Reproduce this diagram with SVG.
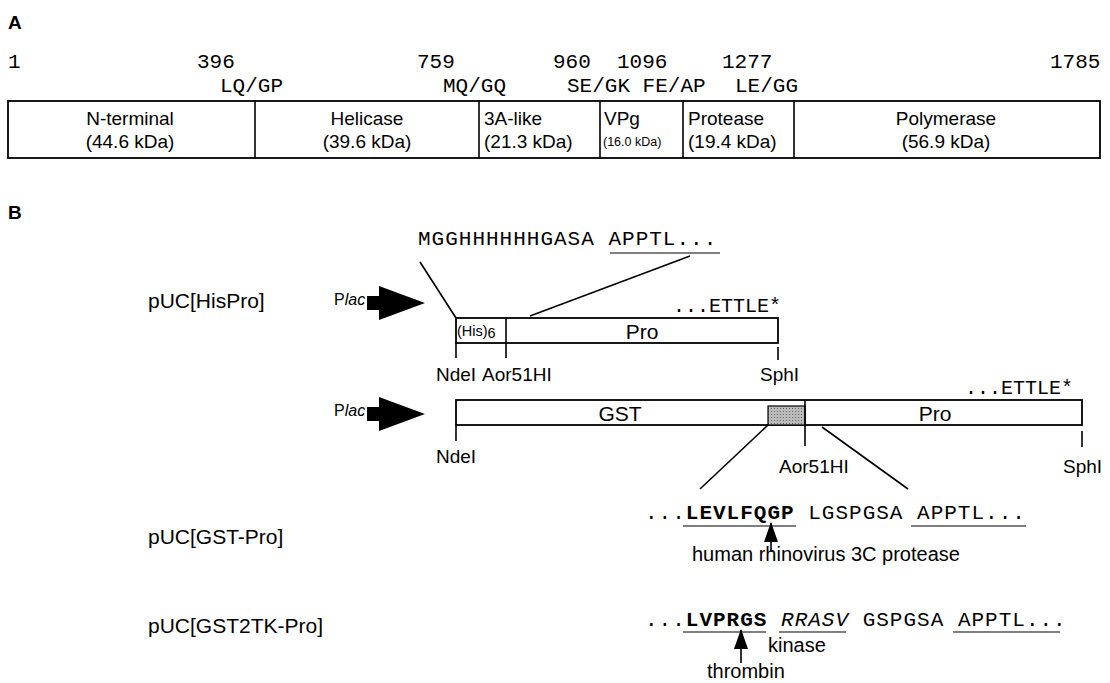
<svg xmlns="http://www.w3.org/2000/svg" width="1110" height="683" viewBox="0 0 1110 683">
<style>
.sans{font-family:"Liberation Sans",Arial,sans-serif;fill:#000}
.mono{font-family:"Liberation Mono","Courier New",monospace;fill:#000}
.seq{font-family:"Liberation Mono","Courier New",monospace;fill:#000;font-size:21px;letter-spacing:1px}
.ln{stroke:#000;stroke-width:1.6;fill:none}
.box{stroke:#000;stroke-width:1.8;fill:#fff}
.ul{stroke:#000;stroke-width:1.2}
</style>
<defs>
<marker id="ah" viewBox="0 0 20 14" refX="19" refY="7" markerWidth="20" markerHeight="14" markerUnits="userSpaceOnUse" orient="auto"><path d="M0,0 L20,7 L0,14 Z" fill="#000"/></marker>
<pattern id="dots" width="3" height="3" patternUnits="userSpaceOnUse"><rect width="3" height="3" fill="#bbb"/><rect width="1" height="1" fill="#666"/></pattern>
</defs>

<!-- Panel A -->
<g id="panelA">
<text class="sans" x="8" y="29" font-size="19" font-weight="bold">A</text>
<g class="mono" font-size="21">
<text x="8" y="68">1</text>
<text x="197" y="68">396</text>
<text x="417" y="68">759</text>
<text x="553" y="68">960</text>
<text x="617" y="68">1096</text>
<text x="722" y="68">1277</text>
<text x="1050" y="68">1785</text>
<text x="220" y="92">LQ/GP</text>
<text x="443" y="92">MQ/GQ</text>
<text x="567" y="92">SE/GK FE/AP</text>
<text x="735" y="92">LE/GG</text>
</g>
<g id="polyprotein">
<rect class="box" x="8" y="101" width="1092" height="57"/>
<line class="ln" x1="255" y1="101" x2="255" y2="158"/>
<line class="ln" x1="479" y1="101" x2="479" y2="158"/>
<line class="ln" x1="600" y1="101" x2="600" y2="158"/>
<line class="ln" x1="683" y1="101" x2="683" y2="158"/>
<line class="ln" x1="794" y1="101" x2="794" y2="158"/>
</g>
<g class="sans" font-size="19">
<text x="130" y="125" text-anchor="middle">N-terminal</text>
<text x="130" y="148" text-anchor="middle">(44.6 kDa)</text>
<text x="367" y="125" text-anchor="middle">Helicase</text>
<text x="367" y="148" text-anchor="middle">(39.6 kDa)</text>
<text x="484" y="125">3A-like</text>
<text x="484" y="148">(21.3 kDa)</text>
<text x="604" y="125">VPg</text>
<text x="603" y="146" font-size="12.5">(16.0 kDa)</text>
<text x="688" y="125">Protease</text>
<text x="688" y="148">(19.4 kDa)</text>
<text x="946" y="125" text-anchor="middle">Polymerase</text>
<text x="946" y="148" text-anchor="middle">(56.9 kDa)</text>
</g>
</g>

<!-- Panel B -->
<text class="sans" x="8" y="219" font-size="19" font-weight="bold">B</text>

<g id="hispro">
<text class="sans" x="148" y="308" font-size="21">pUC[HisPro]</text>
<text class="sans" x="334" y="305" font-size="16">P<tspan font-style="italic">lac</tspan></text>
<path d="M367,296 H379 V286 L425,303 L379,320 V310 H367 Z" fill="#000"/>
<text class="seq" x="418" y="245" letter-spacing="1.1">MGGHHHHHHGASA APPTL...</text>
<line class="ul" x1="610" y1="253" x2="720" y2="253"/>
<rect class="box" x="456" y="318" width="322" height="25"/>
<line class="ln" x1="506" y1="318" x2="506" y2="358"/>
<line class="ln" x1="456" y1="343" x2="456" y2="358"/>
<line class="ln" x1="778" y1="347" x2="778" y2="360"/>
<text class="sans" x="457" y="336" font-size="14.5">(His)<tspan dy="2">6</tspan></text>
<text class="sans" x="642" y="339" font-size="21" text-anchor="middle">Pro</text>
<text class="mono" x="673" y="312" font-size="20">...ETTLE*</text>
<text class="sans" x="436" y="381" font-size="19">NdeI</text>
<text class="sans" x="482" y="381" font-size="19">Aor51HI</text>
<text class="sans" x="760" y="381" font-size="19">SphI</text>
</g>

<g id="gstpro">
<text class="sans" x="334" y="416" font-size="16">P<tspan font-style="italic">lac</tspan></text>
<path d="M367,407 H379 V397 L425,414 L379,431 V421 H367 Z" fill="#000"/>
<text class="mono" x="965" y="394" font-size="20">...ETTLE*</text>
<rect class="box" x="456" y="400" width="626" height="25"/>
<rect x="768" y="406" width="37" height="19" fill="url(#dots)" stroke="#000" stroke-width="1.2"/>
<line class="ln" x1="805" y1="400" x2="805" y2="446"/>
<line class="ln" x1="456" y1="425" x2="456" y2="441"/>
<line class="ln" x1="1082" y1="431" x2="1082" y2="447"/>
<text class="sans" x="620" y="421" font-size="21" text-anchor="middle">GST</text>
<text class="sans" x="935" y="421" font-size="21" text-anchor="middle">Pro</text>
<text class="sans" x="436" y="463" font-size="19">NdeI</text>
<text class="sans" x="779" y="473" font-size="19">Aor51HI</text>
<text class="sans" x="1063" y="473" font-size="19">SphI</text>
</g>

<g id="connectors">
<line class="ln" x1="420" y1="262" x2="456" y2="318"/>
<line class="ln" x1="690" y1="256" x2="530" y2="316"/>
<line class="ln" x1="768" y1="425" x2="700" y2="489"/>
<line class="ln" x1="822" y1="427" x2="908" y2="489"/>
<line class="ln" x1="771" y1="552" x2="771" y2="523" marker-end="url(#ah)"/>
<line class="ln" x1="741" y1="663" x2="741" y2="630" marker-end="url(#ah)"/>
</g>

<g id="gstpro-seq">
<text class="sans" x="148" y="544" font-size="21">pUC[GST-Pro]</text>
<text class="seq" x="645" y="519">...<tspan font-weight="bold">LEVLFQGP</tspan> LGSPGSA APPTL...</text>
<line class="ul" x1="683" y1="526" x2="796" y2="526"/>
<line class="ul" x1="911" y1="526" x2="1026" y2="526"/>
<text class="sans" x="692" y="561" font-size="20">human rhinovirus 3C protease</text>
</g>

<g id="gst2tk-seq">
<text class="sans" x="148" y="633" font-size="21">pUC[GST2TK-Pro]</text>
<text class="seq" x="645" y="626">...<tspan font-weight="bold">LVPRGS</tspan> <tspan font-style="italic">RRASV</tspan> GSPGSA APPTL...</text>
<line class="ul" x1="683" y1="632" x2="766" y2="632"/>
<line class="ul" x1="779" y1="632" x2="846" y2="632"/>
<line class="ul" x1="953" y1="632" x2="1060" y2="632"/>
<text class="sans" x="768" y="652" font-size="20">kinase</text>
<text class="sans" x="707" y="678" font-size="20">thrombin</text>
</g>
</svg>
